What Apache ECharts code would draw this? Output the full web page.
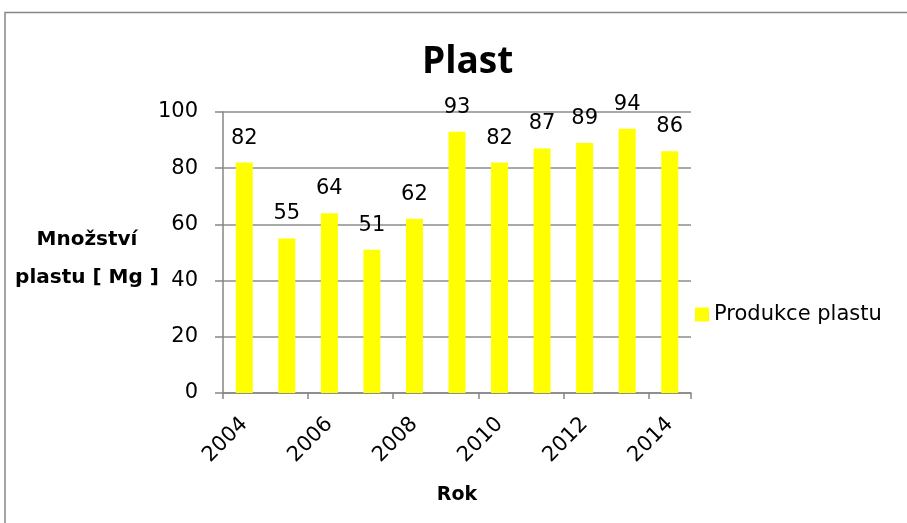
<!DOCTYPE html>
<html>
<head>
<meta charset="utf-8">
<script src="https://cdn.jsdelivr.net/npm/echarts@6/dist/echarts.min.js"></script>
<style>
  html, body { margin: 0; padding: 0; background: #fff; }
  #chart { width: 907px; height: 523px; }
</style>
</head>
<body>
<div id="chart"></div>
<script>
// roky a hodnoty
const years = ['2004', '2005', '2006', '2007', '2008', '2009', '2010', '2011', '2012', '2013', '2014']
const plastValues = [82, 55, 64, 51, 62, 93, 82, 87, 89, 94, 86]
const seriesName = 'Produkce plastu'

// široké písmo, aby odpovídalo roztaženému textu v předloze
const font = '"DejaVu Sans", sans-serif'

const chart = echarts.init(document.getElementById('chart'))

const option = {
  backgroundColor: '#fff',
  animation: false,
  textStyle: { fontFamily: font },
  // rámeček kolem grafu
  graphic: [{
    type: 'rect',
    shape: { x: 5, y: 12.5, width: 920, height: 540 },
    style: { fill: 'none', stroke: '#868686', lineWidth: 1.5 },
    silent: true
  }],
  title: {
    text: 'Plast',
    left: 417,
    top: 39,
    textStyle: { fontSize: 37, fontWeight: 'bold', color: '#000', fontFamily: '"Open Sans", sans-serif' }
  },
  legend: {
    orient: 'vertical',
    left: 690,
    top: 299,
    icon: 'rect',
    itemWidth: 14,
    itemHeight: 14,
    itemGap: 5,
    textStyle: { fontSize: 21, color: '#000', fontFamily: font },
    data: [seriesName]
  },
  grid: {
    left: 223,
    right: 216,
    top: 112,
    bottom: 130,
    containLabel: false
  },
  xAxis: {
    type: 'category',
    data: years,
    name: 'Rok',
    nameLocation: 'middle',
    nameGap: 93,
    nameMoveOverlap: false,
    nameTextStyle: { fontSize: 19, fontWeight: 'bold', color: '#000' },
    axisLine: { lineStyle: { color: '#868686', width: 1.5 } },
    axisTick: { show: true, length: 6, lineStyle: { color: '#868686', width: 1.5 } },
    axisLabel: {
      interval: 1,
      rotate: 45,
      fontSize: 21,
      color: '#000',
      margin: 28
    }
  },
  yAxis: {
    type: 'value',
    min: 0,
    max: 100,
    interval: 20,
    name: '{a|Množství}\n{b|plastu [ Mg ]}',
    nameLocation: 'middle',
    nameRotate: 0,
    nameGap: 136,
    nameMoveOverlap: false,
    nameTextStyle: {
      align: 'center',
      rich: {
        a: { fontSize: 20, fontWeight: 'bold', color: '#000', lineHeight: 51, fontFamily: font },
        b: { fontSize: 20, fontWeight: 'bold', color: '#000', lineHeight: 25, fontFamily: font }
      }
    },
    axisLine: { show: true, lineStyle: { color: '#868686', width: 1.5 } },
    axisTick: { show: true, length: 8, lineStyle: { color: '#868686', width: 1.5 } },
    axisLabel: { fontSize: 21, color: '#000', margin: 25 },
    splitLine: { show: true, lineStyle: { color: '#8c8c8c', width: 1.5 } }
  },
  series: [{
    name: seriesName,
    type: 'bar',
    data: plastValues,
    barWidth: 17,
    itemStyle: { color: '#ffff00' },
    label: {
      show: true,
      position: 'top',
      distance: 14,
      fontSize: 21,
      color: '#000'
    }
  }]
}

chart.setOption(option)
</script>
</body>
</html>
